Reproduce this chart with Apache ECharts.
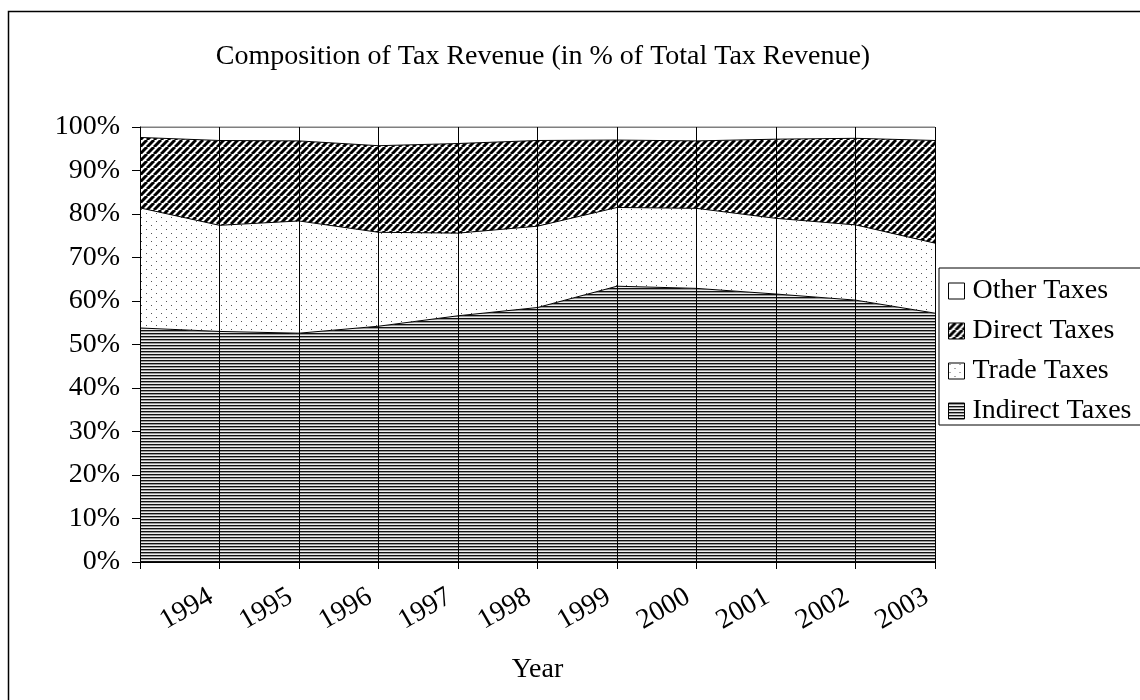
<!DOCTYPE html>
<html>
<head>
<meta charset="utf-8">
<script src="https://cdn.jsdelivr.net/npm/echarts@6/dist/echarts.min.js"></script>
<style>
  html, body { margin: 0; padding: 0; background: #fff; }
  #chart { width: 1140px; height: 700px; }
</style>
</head>
<body>
<div id="chart"></div>
<script>
// Year categories (the first point of the axis carries no label)
const years = ['', '1994', '1995', '1996', '1997', '1998', '1999', '2000', '2001', '2002', '2003'];

// Shares of total tax revenue, in percent
const indirectTaxes = [53.8, 53.0, 52.6, 54.2, 56.6, 58.5, 63.4, 62.9, 61.6, 60.2, 57.2];
const tradeTaxes    = [27.6, 24.4, 25.8, 21.6, 19.0, 18.7, 18.1, 18.4, 17.4, 17.3, 16.1];
const directTaxes   = [16.2, 19.5, 18.4, 19.9, 20.6, 19.7, 15.5, 15.5, 18.2, 19.9, 23.6];
const otherTaxes    = [2.4, 3.1, 3.2, 4.3, 3.8, 3.1, 3.0, 3.2, 2.8, 2.6, 3.1];

const yTicks = [0, 10, 20, 30, 40, 50, 60, 70, 80, 90, 100];

const FONT = "'Liberation Serif', 'Times New Roman', serif";

// Small repeating tiles used as fill patterns
function tile(w, h, draw) {
  const c = document.createElement('canvas');
  c.width = w; c.height = h;
  const g = c.getContext('2d');
  draw(g, w, h);
  return { image: c, repeat: 'repeat' };
}

const stripesH = tile(1, 3, (g) => {
  g.fillStyle = '#111'; g.fillRect(0, 0, 1, 1);
  g.fillStyle = '#999'; g.fillRect(0, 1, 1, 1);
  g.fillStyle = '#eee'; g.fillRect(0, 2, 1, 1);
});

const hatchDiag = tile(7, 7, (g, w, h) => {
  g.fillStyle = '#fff'; g.fillRect(0, 0, w, h);
  g.strokeStyle = '#000'; g.lineWidth = 3;
  for (let x0 = -w; x0 <= w; x0 += w) {
    g.beginPath(); g.moveTo(x0, h); g.lineTo(x0 + w, 0); g.stroke();
  }
});

const dots = tile(10, 8, (g, w, h) => {
  g.fillStyle = '#fff'; g.fillRect(0, 0, w, h);
  g.fillStyle = '#555';
  g.fillRect(1, 1, 1, 1);
  g.fillRect(6, 5, 1, 1);
});

const plain = '#ffffff';

function areaSeries(name, data, fill) {
  return {
    name: name,
    type: 'line',
    stack: 'share',
    data: data,
    symbol: 'none',
    smooth: false,
    lineStyle: { color: '#000', width: 1 },
    itemStyle: { color: fill, borderColor: '#000', borderWidth: 1 },
    areaStyle: { color: fill, opacity: 1 },
    emphasis: { disabled: true }
  };
}

const chart = echarts.init(document.getElementById('chart'), null, { renderer: 'canvas' });

chart.setOption({
  animation: false,
  backgroundColor: '#fff',
  textStyle: { fontFamily: FONT, color: '#000' },
  title: {
    text: 'Composition of Tax Revenue (in % of Total Tax Revenue)',
    left: 538,
    top: 38,
    textAlign: 'center',
    textStyle: { fontFamily: FONT, fontSize: 28, fontWeight: 'normal', color: '#000' }
  },
  graphic: [{
    type: 'rect',
    shape: { x: 8.5, y: 11.5, width: 1140, height: 700 },
    style: { fill: null, stroke: '#000', lineWidth: 1.5 },
    silent: true,
    z: -1
  }],
  legend: {
    orient: 'vertical',
    left: 939,
    top: 268,
    padding: [9, 16, 0, 9],
    itemGap: 12,
    itemWidth: 16,
    itemHeight: 16,
    icon: 'rect',
    borderColor: '#000',
    borderWidth: 1,
    backgroundColor: '#fff',
    textStyle: { fontFamily: FONT, fontSize: 28, color: '#000', lineHeight: 26, padding: [0, 0, 0, 3] },
    data: [
      { name: 'Other Taxes', itemStyle: { color: plain, borderColor: '#000', borderWidth: 1 } },
      { name: 'Direct Taxes', itemStyle: { color: hatchDiag, borderColor: '#000', borderWidth: 1 } },
      { name: 'Trade Taxes', itemStyle: { color: dots, borderColor: '#000', borderWidth: 1 } },
      { name: 'Indirect Taxes', itemStyle: { color: stripesH, borderColor: '#000', borderWidth: 1 } }
    ]
  },
  grid: { left: 140, right: 205, top: 127, bottom: 138, containLabel: false },
  xAxis: {
    type: 'category',
    data: years,
    boundaryGap: false,
    z: 5,
    name: 'Year',
    nameLocation: 'middle',
    nameGap: 94,
    nameTextStyle: { fontFamily: FONT, fontSize: 28, color: '#000' },
    axisLine: { show: true, lineStyle: { color: '#000', width: 1 } },
    axisTick: { show: true, length: 7, interval: 0, lineStyle: { color: '#000' } },
    axisLabel: {
      interval: 0, rotate: 30, margin: 28, padding: [0, 10, 0, 0],
      fontFamily: FONT, fontSize: 28, color: '#000'
    },
    splitLine: { show: true, interval: 0, lineStyle: { color: '#000', width: 1 } }
  },
  yAxis: {
    type: 'value',
    min: 0,
    max: 100,
    interval: 10,
    axisLine: { show: true, lineStyle: { color: '#000', width: 1 } },
    axisTick: { show: true, length: 8, lineStyle: { color: '#000' } },
    axisLabel: {
      margin: 20,
      fontFamily: FONT,
      fontSize: 28,
      color: '#000',
      formatter: (v) => (yTicks.indexOf(v) >= 0 ? v + '%' : '')
    },
    splitLine: { show: false }
  },
  series: [
    areaSeries('Indirect Taxes', indirectTaxes, stripesH),
    areaSeries('Trade Taxes', tradeTaxes, dots),
    areaSeries('Direct Taxes', directTaxes, hatchDiag),
    areaSeries('Other Taxes', otherTaxes, plain)
  ]
});
</script>
</body>
</html>
